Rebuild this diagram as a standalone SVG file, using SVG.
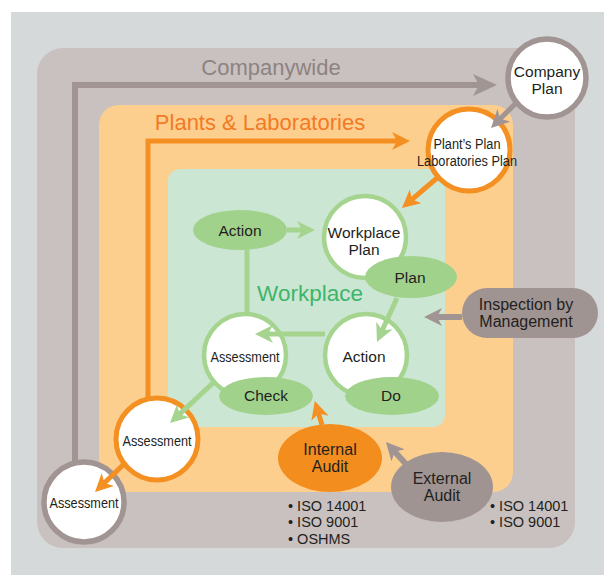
<svg xmlns="http://www.w3.org/2000/svg" width="604" height="575" viewBox="0 0 604 575">
  <style>
    text { font-family: "Liberation Sans", Arial, sans-serif; fill: #231f20; text-anchor: middle; }
    .lbl { font-size: 15.5px; }
    .sm { font-size: 14px; }
    .iso { font-size: 14.5px; text-anchor: start; }
    .zone { font-size: 22px; }
    .g-line { fill: none; stroke: #a5d48f; stroke-width: 5; }
    .o-line { fill: none; stroke: #f48f22; stroke-width: 5; }
    .k-line { fill: none; stroke: #a19593; stroke-width: 6; }
    .c-green { fill: #ffffff; stroke: #a5d48f; stroke-width: 4.5; }
    .c-orange { fill: #ffffff; stroke: #f48f22; stroke-width: 5; }
    .c-gray { fill: #ffffff; stroke: #a19593; stroke-width: 5.5; }
    .e-green { fill: #a1d28c; }
    .e-gray { fill: #a09492; }
  </style>
  <defs>
    <marker id="head-green" viewBox="0 0 18 18" markerWidth="18" markerHeight="18" refX="9" refY="9" markerUnits="userSpaceOnUse" orient="auto">
      <path d="M0,0 L18,9 L0,18 L5,9 z" fill="#a5d48f"/>
    </marker>
    <marker id="head-orange" viewBox="0 0 18 18" markerWidth="18" markerHeight="18" refX="9" refY="9" markerUnits="userSpaceOnUse" orient="auto">
      <path d="M0,0 L18,9 L0,18 L5,9 z" fill="#f48f22"/>
    </marker>
    <marker id="head-gray" viewBox="0 0 18 18" markerWidth="18" markerHeight="18" refX="9" refY="9" markerUnits="userSpaceOnUse" orient="auto">
      <path d="M0,0 L18,9 L0,18 L5,9 z" fill="#a19593"/>
    </marker>
    <marker id="head-gray-lg" viewBox="0 0 24 24" markerWidth="24" markerHeight="24" refX="12" refY="12" markerUnits="userSpaceOnUse" orient="auto">
      <path d="M0,1 L24,12 L0,23 L6,12 z" fill="#a19593"/>
    </marker>
  </defs>

  <!-- backdrop and nested scopes -->
  <rect x="11" y="12" width="593" height="563" fill="#d5d9d9"/>
  <g id="zone-companywide">
    <rect x="37" y="48" width="538" height="500" rx="26" fill="#c9c1bf"/>
    <text class="zone" x="271" y="75" style="fill:#8c8382">Companywide</text>
  </g>
  <g id="zone-plants">
    <rect x="99" y="105" width="414" height="387" rx="20" fill="#fdcf8e"/>
    <text class="zone" x="260" y="130" style="fill:#f37a25">Plants &amp; Laboratories</text>
  </g>
  <g id="zone-workplace">
    <rect x="168" y="169" width="277" height="258" rx="12" fill="#cce6d4"/>
    <text x="310" y="301" style="font-size:22.5px;fill:#3db56a">Workplace</text>
  </g>

  <!-- outer loops (drawn beneath the nodes they run into) -->
  <g id="loops">
    <path class="k-line" d="M75,470 L75,85 L485,85" marker-end="url(#head-gray-lg)"/>
    <path class="o-line" d="M148,405 L148,141 L401,141" marker-end="url(#head-orange)"/>
  </g>

  <!-- nodes -->
  <g id="company-plan">
    <circle class="c-gray" cx="547" cy="78" r="39"/>
    <text class="lbl" x="547" y="77">Company</text>
    <text class="lbl" x="547" y="94">Plan</text>
  </g>
  <g id="plant-plan">
    <circle class="c-orange" cx="469" cy="150" r="41"/>
    <text class="sm" x="467" y="149" textLength="67" lengthAdjust="spacingAndGlyphs">Plant’s Plan</text>
    <text class="sm" x="467" y="166" textLength="100" lengthAdjust="spacingAndGlyphs">Laboratories Plan</text>
  </g>
  <g id="workplace-plan">
    <circle class="c-green" cx="365" cy="237" r="41"/>
    <text class="lbl" x="364" y="238">Workplace</text>
    <text class="lbl" x="364" y="255">Plan</text>
  </g>
  <g id="plan">
    <ellipse class="e-green" cx="411" cy="277" rx="46" ry="21"/>
    <text class="lbl" x="410" y="283">Plan</text>
  </g>
  <g id="action-top">
    <ellipse class="e-green" cx="240" cy="230" rx="47" ry="20"/>
    <text class="lbl" x="240" y="236">Action</text>
  </g>
  <g id="action-do">
    <circle class="c-green" cx="366" cy="355" r="41"/>
    <text class="lbl" x="364" y="362">Action</text>
  </g>
  <g id="do">
    <ellipse class="e-green" cx="392" cy="396" rx="47" ry="19"/>
    <text class="lbl" x="391" y="401">Do</text>
  </g>
  <g id="assessment-workplace">
    <circle class="c-green" cx="245" cy="355" r="41"/>
    <text class="lbl" x="245" y="362" textLength="69" lengthAdjust="spacingAndGlyphs">Assessment</text>
  </g>
  <g id="check">
    <ellipse class="e-green" cx="266" cy="396" rx="47" ry="19"/>
    <text class="lbl" x="266" y="401">Check</text>
  </g>
  <g id="assessment-plants">
    <circle class="c-orange" cx="157" cy="439" r="41"/>
    <text class="lbl" x="157" y="446" textLength="69" lengthAdjust="spacingAndGlyphs">Assessment</text>
  </g>
  <g id="assessment-company">
    <circle class="c-gray" cx="84" cy="502" r="40"/>
    <text class="lbl" x="84" y="508" textLength="69" lengthAdjust="spacingAndGlyphs">Assessment</text>
  </g>
  <g id="inspection">
    <rect class="e-gray" x="462" y="288" width="136" height="50" rx="25"/>
    <text style="font-size:16px" x="526" y="310">Inspection by</text>
    <text style="font-size:16px" x="526" y="327">Management</text>
  </g>
  <g id="internal-audit">
    <ellipse cx="330" cy="458" rx="52" ry="34" fill="#f38d1e"/>
    <text style="font-size:16px" x="330" y="455">Internal</text>
    <text style="font-size:16px" x="330" y="472">Audit</text>
  </g>
  <g id="external-audit">
    <ellipse class="e-gray" cx="442" cy="487" rx="51" ry="35"/>
    <text style="font-size:16px" x="442" y="484">External</text>
    <text style="font-size:16px" x="442" y="501">Audit</text>
  </g>

  <!-- standards lists -->
  <g id="iso-internal">
    <text class="iso" x="288" y="511">• ISO 14001</text>
    <text class="iso" x="288" y="527">• ISO 9001</text>
    <text class="iso" x="288" y="544">• OSHMS</text>
  </g>
  <g id="iso-external">
    <text class="iso" x="490" y="511">• ISO 14001</text>
    <text class="iso" x="490" y="527">• ISO 9001</text>
  </g>

  <!-- connectors -->
  <g id="connectors">
    <line class="k-line" style="stroke-width:5" x1="516" y1="103" x2="497.4" y2="121.6" marker-end="url(#head-gray)"/>
    <line class="o-line" x1="437" y1="178" x2="408.8" y2="202.1" marker-end="url(#head-orange)"/>
    <line class="g-line" x1="287" y1="230" x2="306" y2="230" marker-end="url(#head-green)"/>
    <line class="g-line" x1="247" y1="250" x2="247" y2="314"/>
    <line class="g-line" x1="397" y1="298" x2="380.7" y2="333.8" marker-end="url(#head-green)"/>
    <line class="g-line" x1="325" y1="334" x2="264" y2="334" marker-end="url(#head-green)"/>
    <line class="g-line" x1="214" y1="382" x2="176.6" y2="416.9" marker-end="url(#head-green)"/>
    <line class="o-line" x1="124" y1="464" x2="101.5" y2="485.8" marker-end="url(#head-orange)"/>
    <line class="k-line" x1="462" y1="317" x2="433" y2="317" marker-end="url(#head-gray)"/>
    <line class="o-line" x1="322" y1="425" x2="317.4" y2="409.6" marker-end="url(#head-orange)"/>
    <line class="k-line" x1="406" y1="464" x2="392" y2="448.7" marker-end="url(#head-gray)"/>
  </g>
</svg>
